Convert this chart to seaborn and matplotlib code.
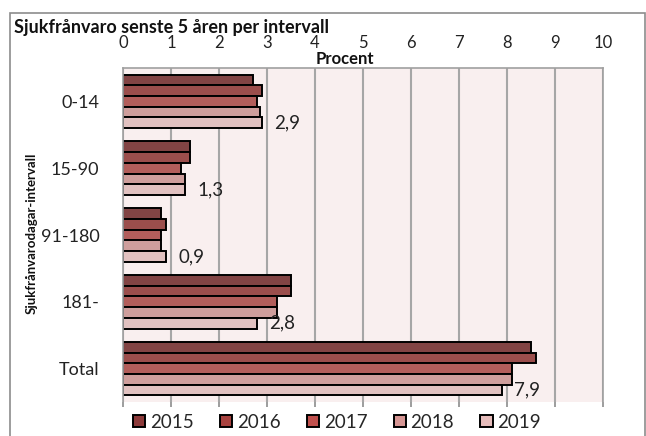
import matplotlib
matplotlib.use("Agg")
import matplotlib.pyplot as plt
import matplotlib.patches as mpatches
import seaborn as sns
import pandas as pd

sns.set_theme(style="white")
plt.rcParams['font.family'] = ['Lato', 'DejaVu Sans']

# data (percent)
categories = ['0-14', '15-90', '91-180', '181-', 'Total']
years = ['2015', '2016', '2017', '2018', '2019']
v2015 = [2.7, 1.4, 0.8, 3.5, 8.5]
v2016 = [2.9, 1.4, 0.9, 3.5, 8.6]
v2017 = [2.8, 1.2, 0.8, 3.2, 8.1]
v2018 = [2.85, 1.3, 0.8, 3.2, 8.1]
v2019 = [2.9, 1.3, 0.9, 2.8, 7.9]
colors = ['#8C3A3A', '#A8423F', '#C0504D', '#D69694', '#E6BCBB']

series = [v2015, v2016, v2017, v2018, v2019]
df = pd.DataFrame([
    {'intervall': c, 'year': y, 'value': v}
    for y, vals in zip(years, series) for c, v in zip(categories, vals)
])

W, H = 646, 436
fig = plt.figure(figsize=(W / 100, H / 100), dpi=100)
ax = fig.add_axes([123 / W, 1 - 402 / H, 480 / W, 334 / H])

sns.barplot(data=df, x='value', y='intervall', hue='year', orient='h',
            palette=colors, edgecolor='black', linewidth=1.4, width=0.8,
            ax=ax, legend=False)

ax.set_facecolor('#F9EFEF')
ax.set_xlim(0, 10)
ax.set_xticks(range(0, 11))
ax.grid(axis='x', color='#A6A6A6', lw=1.5)
ax.set_axisbelow(True)
ax.set_xlabel('')
ax.set_ylabel('')

ax.tick_params(axis='x', bottom=True, top=False, labelbottom=False, labeltop=True,
               length=3.6, width=1.2, color='#8C8C8C', pad=8.6, labelsize=12,
               labelcolor='#222222')
ax.tick_params(axis='y', length=0, pad=17, labelsize=13, labelcolor='#222222')

for side in ['top', 'right', 'left']:
    ax.spines[side].set_color('#A0A0A0')
    ax.spines[side].set_linewidth(1.2)
ax.spines['bottom'].set_visible(False)

# value labels on the 2019 bars
lab = [f"{v:.1f}".replace('.', ',') for v in v2019]
ax.bar_label(ax.containers[4], labels=lab, padding=8.5, fontsize=13.5, color='#222222')

fig.text(14 / W, 1 - 33 / H, 'Sjukfrånvaro senste 5 åren per intervall',
         fontsize=13, fontweight='bold', va='baseline', ha='left', color='#111111')
fig.text(345 / W, 1 - 59 / H, 'Procent', fontsize=12, fontweight='bold',
         ha='center', va='center', color='#111111')
fig.text(32 / W, 1 - 233 / H, 'Sjukfrånvarodagar-intervall', fontsize=9.5,
         fontweight='bold', rotation=90, ha='center', va='center', color='#111111')

handles = [mpatches.Patch(facecolor=c, edgecolor='black', linewidth=1.4) for c in colors]
fig.legend(handles, years, ncol=5, loc='center', bbox_to_anchor=(337 / W, 1 - 422 / H),
           frameon=False, fontsize=13.5, handlelength=0.65, handleheight=0.65,
           handletextpad=0.25, columnspacing=1.4)

# outer frame
fig.patches.append(mpatches.Rectangle((10 / W, -0.05), 635 / W, 1.05 - 13 / H,
                                      transform=fig.transFigure, fill=False,
                                      edgecolor='#8C8C8C', lw=1.2))

fig.savefig('out.png', dpi=100)
